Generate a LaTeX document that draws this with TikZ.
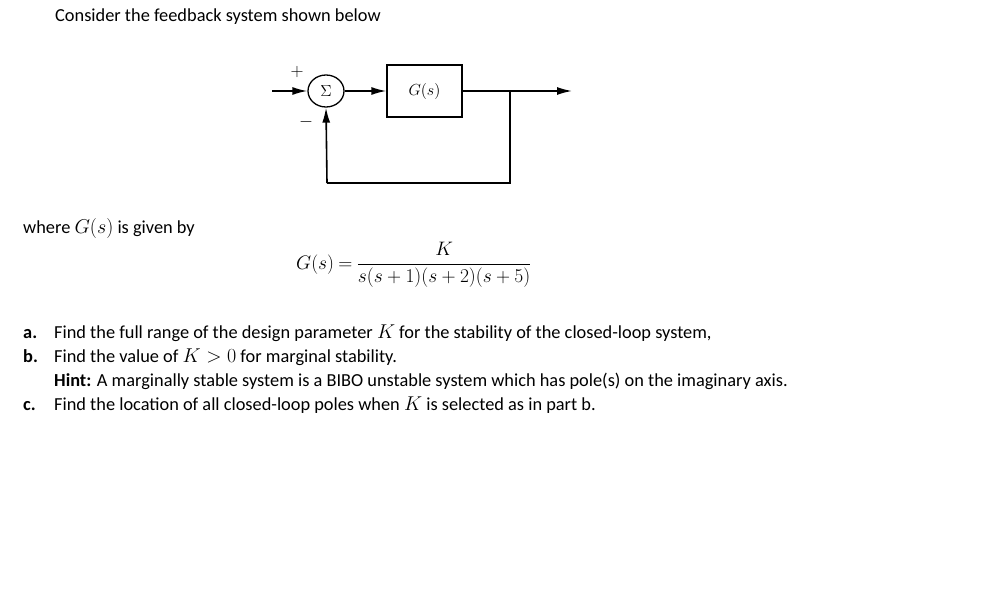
\RequirePackage{fix-cm}
\documentclass[tikz,border=0pt]{standalone}
\usepackage{amsmath}
\usepackage[no-math]{fontspec}
\setmainfont{Carlito}
\usetikzlibrary{arrows.meta,shapes.geometric}
\newcommand{\mth}[1]{{\fontsize{20}{22}\selectfont$#1$}}
\tikzset{
  txt/.style={anchor=base west, inner sep=0pt, font=\fontsize{18.35}{22}\selectfont},
  wire/.style={line width=1.6pt},
  arr/.style={wire, -{Latex[length=15pt,width=8pt]}},
  sumnode/.style={draw, line width=1.3pt, ellipse, minimum width=36pt, minimum height=32pt, inner sep=0pt, font=\fontsize{16}{18}\selectfont},
  blocknode/.style={draw, line width=1.3pt, rectangle, minimum width=75pt, minimum height=52pt, inner sep=0pt, font=\fontsize{16}{18}\selectfont}
}
\begin{document}
\begin{tikzpicture}[x=1pt,y=-1pt]
\useasboundingbox (0,0) rectangle (982,610);
% title
\node[txt] (title) at (55,22) {Consider the feedback system shown below};
% block diagram
\node[sumnode] (sum) at (326,91) {$\Sigma$};
\node[blocknode] (G) at (424.5,91) {$G(s)$};
\coordinate (in) at (272,91);
\coordinate (out) at (572,91);
\coordinate (br) at (510,91);
\coordinate (br2) at (510,183);
\coordinate (fb) at (327,183);
\node[inner sep=0pt, font=\fontsize{18}{20}\selectfont] (plus) at (297,72) {$+$};
\node[inner sep=0pt, font=\fontsize{18}{20}\selectfont] (minus) at (306,122) {$-$};
\draw[arr] (in) -- (sum.west);
\draw[arr] (sum.east) -- (G.west);
\draw[arr] (G.east) -- (out);
\draw[wire] (br) -- (br2) -- (fb);
\draw[arr] (fb) -- (sum.south);
% where
\node[txt] (where) at (23,233) {where \mth{G(s)} is given by};
\node[anchor=west, inner sep=0pt, font=\fontsize{19.5}{22}\selectfont] (eq) at (296,265) {\thickmuskip=4mu $G(s)=\dfrac{K}{s(s+1)(s+2)(s+5)}$};
% items
\node[txt] (la) at (23,338) {\textbf{a.}};
\node[txt] (ta) at (54,338) {Find the full range of the design parameter \mth{K} for the stability of the closed-loop system,};
\node[txt] (lb) at (23,362) {\textbf{b.}};
\node[txt] (tb) at (54,362) {Find the value of \mth{K>0} for marginal stability.};
\node[txt] (th) at (54,386) {\textbf{Hint:} A marginally stable system is a BIBO unstable system which has pole(s) on the imaginary axis.};
\node[txt] (lc) at (23,410) {\textbf{c.}};
\node[txt] (tc) at (54,410) {Find the location of all closed-loop poles when \mth{K} is selected as in part b.};
\end{tikzpicture}
\end{document}
